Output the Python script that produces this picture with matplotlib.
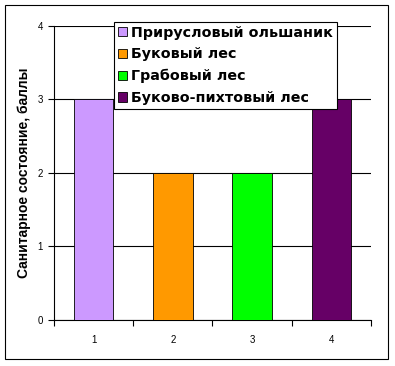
import matplotlib.pyplot as plt
from matplotlib.patches import Rectangle, Patch

plt.rcParams['font.family'] = ['Liberation Sans', 'DejaVu Sans']

# Data
categories = ['1', '2', '3', '4']
series_names = ['Прирусловый ольшаник', 'Буковый лес', 'Грабовый лес', 'Буково-пихтовый лес']
scores = [3, 2, 2, 3]
colors = ['#CC99FF', '#FF9900', '#00FF00', '#660066']

fig = plt.figure(figsize=(3.95, 3.66), dpi=100)
ax = fig.add_axes([54 / 395, 46 / 366, 317 / 395, 294.3 / 366])

x = list(range(len(categories)))
ax.bar(x, scores, width=0.5, color=colors, edgecolor='black', linewidth=0.6, zorder=3)

ax.set_xlim(-0.5, len(categories) - 0.5)
ax.set_ylim(0, 4)
ax.set_yticks([0, 1, 2, 3, 4])
ax.set_xticks(x)
ax.set_xticklabels(categories)
ax.set_xticks([i - 0.5 for i in range(len(categories) + 1)], minor=True)
ax.tick_params(axis='x', which='major', length=0, pad=11, labelsize=7)
ax.tick_params(axis='x', which='minor', length=4, width=0.8, direction='out')
ax.tick_params(axis='y', length=4, width=0.8, labelsize=7, pad=4)

ax.yaxis.grid(True, color='black', linewidth=0.8, zorder=0)
ax.spines['top'].set_visible(False)
ax.spines['right'].set_visible(False)
ax.spines['left'].set_linewidth(0.8)
ax.spines['bottom'].set_linewidth(0.8)

ax.set_ylabel('Санитарное состояние, баллы', fontsize=10, fontweight='bold', labelpad=5)

handles = [Patch(facecolor=c, edgecolor='black', linewidth=0.6) for c in colors]
leg = fig.legend(handles, series_names, loc='upper left',
                 bbox_to_anchor=(114 / 395, (366 - 21.7) / 366),
                 prop={'family': 'DejaVu Sans', 'size': 10.3, 'weight': 'bold'},
                 frameon=True, fancybox=False,
                 edgecolor='black', framealpha=1, handlelength=0.62, handleheight=0.62,
                 handletextpad=0.3, labelspacing=0.54, borderpad=0.27, borderaxespad=0)
leg.get_frame().set_linewidth(0.8)
leg.set_zorder(10)

# Outer chart border
fig.patches.append(Rectangle((5 / 395, 7 / 366), 383 / 395, 354 / 366, transform=fig.transFigure,
                             fill=False, edgecolor='black', linewidth=0.8))

fig.savefig('out.png', dpi=100)
